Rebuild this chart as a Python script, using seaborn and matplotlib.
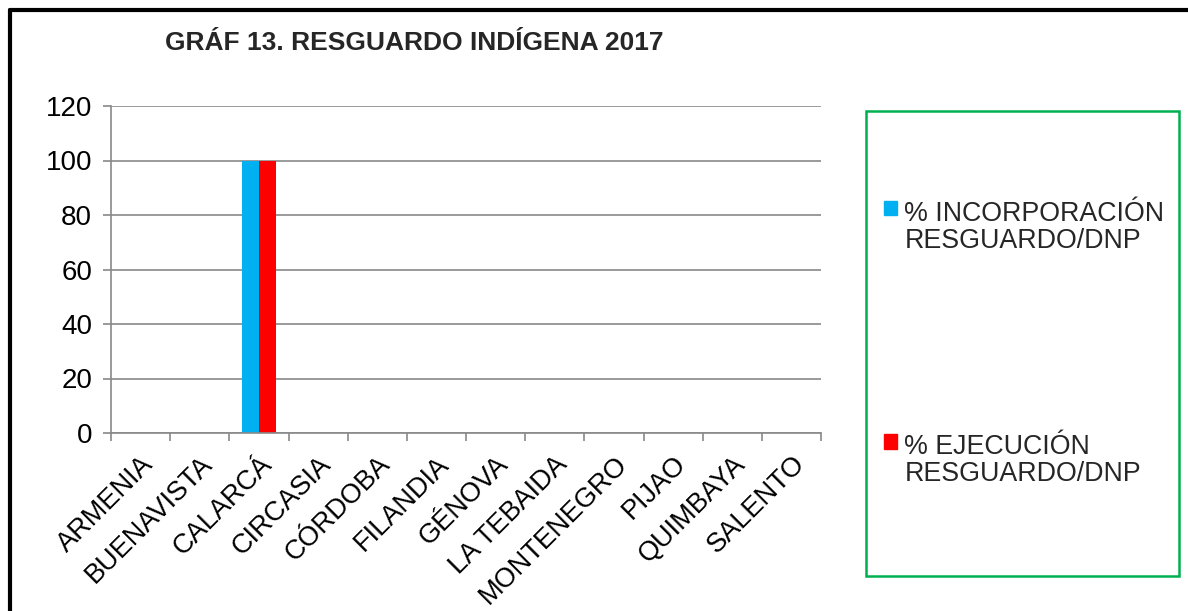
import pandas as pd
import numpy as np
import seaborn as sns
import matplotlib.pyplot as plt
from matplotlib.lines import Line2D
from matplotlib.patches import Rectangle

municipios = ['ARMENIA', 'BUENAVISTA', 'CALARCÁ', 'CIRCASIA', 'CÓRDOBA', 'FILANDIA',
              'GÉNOVA', 'LA TEBAIDA', 'MONTENEGRO', 'PIJAO', 'QUIMBAYA', 'SALENTO']
incorporacion = [0, 0, 100, 0, 0, 0, 0, 0, 0, 0, 0, 0]
ejecucion = [0, 0, 100, 0, 0, 0, 0, 0, 0, 0, 0, 0]
series = ['% INCORPORACIÓN\nRESGUARDO/DNP', '% EJECUCIÓN\nRESGUARDO/DNP']
colores = ['#00B0F0', '#FF0000']
yticks = [0, 20, 40, 60, 80, 100, 120]

df = pd.DataFrame({'Municipio': municipios * 2,
                   'Valor': incorporacion + ejecucion,
                   'Serie': [series[0]] * len(municipios) + [series[1]] * len(municipios)})

sns.set_theme(style='white')
plt.rcParams['font.family'] = ['Liberation Sans', 'DejaVu Sans']

fig = plt.figure(figsize=(11.88, 6.11), dpi=100)
ax = fig.add_axes([111 / 1188, 1 - 433 / 611, (821 - 111) / 1188, (433 - 106) / 611])

sns.barplot(data=df, x='Municipio', y='Valor', hue='Serie', palette=colores,
            saturation=1, width=0.58, linewidth=0, ax=ax)

gris = '#898989'
ax.set_ylim(0, 120)
ax.set_xlim(-0.5, len(municipios) - 0.5)
ax.set_yticks(yticks)
ax.set_yticklabels([str(v) for v in yticks], fontsize=20, color='black')
ax.yaxis.grid(True, color=gris, linewidth=1.2)
ax.set_axisbelow(True)
ax.set_xlabel('')
ax.set_ylabel('')
for s in ['top', 'right']:
    ax.spines[s].set_visible(False)
for s in ['left', 'bottom']:
    ax.spines[s].set_color(gris)
    ax.spines[s].set_linewidth(1.2)

ax.set_xticks(range(len(municipios)))
ax.set_xticklabels(municipios, rotation=45, ha='right', rotation_mode='anchor',
                   fontsize=19.5, color='black')
ax.tick_params(axis='x', which='major', length=0, pad=13)
ax.set_xticks(np.arange(-0.5, len(municipios)), minor=True)
ax.tick_params(axis='x', which='minor', length=5.5, width=1.2, color=gris, direction='out', bottom=True)
ax.tick_params(axis='y', length=5.5, width=1.2, color=gris, direction='out', left=True, pad=8)

# legend inside a green box
ax.legend_.remove()
handles = [Rectangle((0, 0), 1, 1, color=c) for c in colores]
leg = fig.legend(handles, series, loc='center left',
                 bbox_to_anchor=(884 / 1188, 1 - 344 / 611), frameon=False,
                 borderpad=0, borderaxespad=0,
                 fontsize=19.3, labelspacing=6.75, handlelength=0.48, handleheight=0.48,
                 handletextpad=0.28)
for t in leg.get_texts():
    t.set_linespacing(1.05)
for col in leg._legend_handle_box.get_children():
    for entry in col.get_children():
        entry.align = 'top'
fig.add_artist(Rectangle((866 / 1188, 1 - 576 / 611), (1179 - 866) / 1188, (576 - 111) / 611,
                         transform=fig.transFigure, fill=False, edgecolor='#00B050', linewidth=1.8))

fig.text(165 / 1188, 1 - 50 / 611, 'GRÁF 13. RESGUARDO INDÍGENA 2017', fontsize=19,
         fontweight='bold', va='baseline', ha='left')

# black frame on top and left
fig.add_artist(Line2D([10 / 1188, 1], [1 - 10 / 611, 1 - 10 / 611], color='black', linewidth=3,
                      transform=fig.transFigure))
fig.add_artist(Line2D([10 / 1188, 10 / 1188], [0, 1 - 10 / 611], color='black', linewidth=3,
                      transform=fig.transFigure))

fig.savefig('out.png', dpi=100)
